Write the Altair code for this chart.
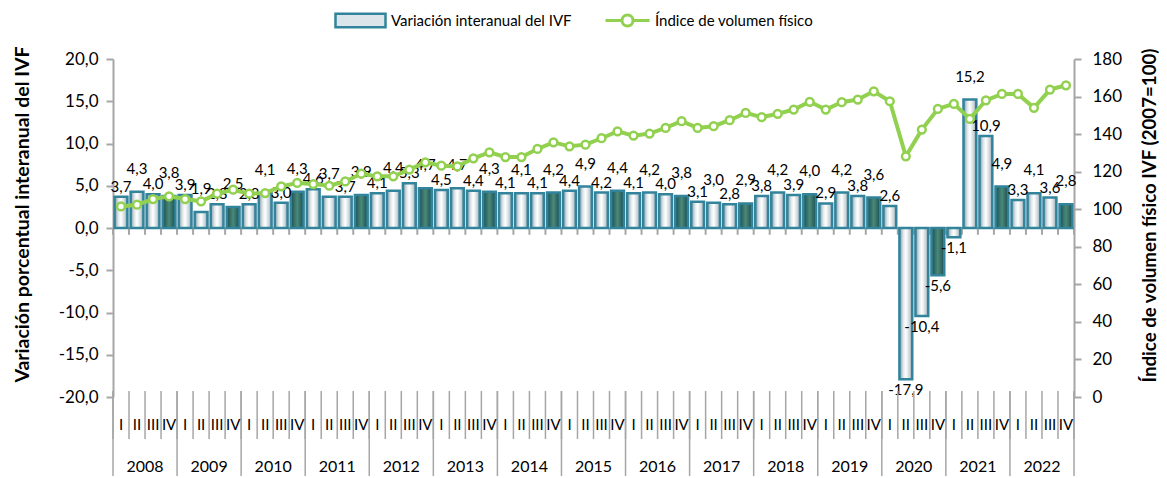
import altair as alt
import pandas as pd

years = list(range(2008, 2023))
quarters = ["I", "II", "III", "IV"]
variacion = [3.7, 4.3, 4.0, 3.8, 3.9, 1.9, 2.8, 2.5, 2.8, 4.1, 3.0, 4.3,
             4.6, 3.7, 3.7, 3.9, 4.1, 4.4, 5.3, 4.7, 4.5, 4.7, 4.4, 4.3,
             4.1, 4.1, 4.1, 4.2, 4.4, 4.9, 4.2, 4.4, 4.1, 4.2, 4.0, 3.8,
             3.1, 3.0, 2.8, 2.9, 3.8, 4.2, 3.9, 4.0, 2.9, 4.2, 3.8, 3.6,
             2.6, -17.9, -10.4, -5.6, -1.1, 15.2, 10.9, 4.9, 3.3, 4.1, 3.6, 2.8]
indice = [101.5, 102.4, 105.4, 106.9, 105.4, 104.2, 108.3, 110.4, 108.3, 108.6,
          112.2, 114.0, 113.4, 112.5, 114.8, 118.9, 117.5, 117.5, 121.1, 125.0,
          123.2, 122.8, 127.1, 130.3, 127.8, 127.8, 132.1, 135.6, 133.5, 134.4,
          137.8, 141.5, 139.2, 140.3, 143.3, 146.9, 143.3, 144.2, 147.4, 151.3,
          149.0, 150.8, 153.1, 157.2, 153.1, 157.0, 158.4, 162.8, 157.5, 128.2,
          142.4, 153.4, 156.1, 148.1, 158.0, 161.4, 161.4, 154.0, 163.7, 166.0]
bar_name = "Variación interanual del IVF"
line_name = "Índice de volumen físico"
left_title = "Variación porcentual interanual del IVF"
right_title = "Índice de volumen físico IVF (2007=100)"

FONT = "Lato"
n = len(variacion)
df = pd.DataFrame({
    "i": list(range(n)),
    "q": [quarters[k % 4] for k in range(n)],
    "v": variacion,
    "ivf": indice,
})
df["x0"] = df["i"] + 0.1
df["x1"] = df["i"] + 0.9
df["xc"] = df["i"] + 0.5
df["lab"] = [f"{v:.1f}".replace(".", ",") for v in variacion]
df["q4"] = (df["i"] % 4 == 3)
df["odd"] = df["i"] % 2
df["zero"] = 0.0
df["serie"] = bar_name
df["serie2"] = line_name

bounds = pd.DataFrame({"b": list(range(n + 1))})
bounds["yedge"] = bounds["b"] % 4 == 0
bounds["t0"] = 0.0
bounds["t1"] = -0.8

yrs = pd.DataFrame({"year": [str(y) for y in years],
                    "xc": [4 * j + 2 for j in range(len(years))]})
zl = pd.DataFrame({"a": [0], "b": [n], "z": [0.0]})

W, H = 961, 338
xs = alt.Scale(domain=[0, n], nice=False, zero=False)
ys = alt.Scale(domain=[-20, 20], nice=False)
ys2 = alt.Scale(domain=[0, 180], nice=False)
GRAY = "#a6a6a6"
STROKE = "#31849b"

light = alt.LinearGradient(gradient="linear", x1=0, x2=1, y1=0, y2=0, stops=[
    alt.GradientStop(color="#7d96a2", offset=0),
    alt.GradientStop(color="#dfe7ea", offset=0.3),
    alt.GradientStop(color="#ffffff", offset=0.5),
    alt.GradientStop(color="#c9d4d9", offset=0.8),
    alt.GradientStop(color="#7d96a2", offset=1)])
dark = alt.LinearGradient(gradient="linear", x1=0, x2=1, y1=0, y2=0, stops=[
    alt.GradientStop(color="#1b4d52", offset=0),
    alt.GradientStop(color="#4a8a79", offset=0.5),
    alt.GradientStop(color="#1b4d52", offset=1)])

left_axis = alt.Axis(
    orient="left", values=list(range(-20, 21, 5)),
    labelExpr="replace(replace(format(datum.value, '.1f'), '.', ','), '\u2212', '-')",
    title=left_title, titleFont=FONT, titleFontSize=19.5, titleFontWeight="bold",
    titleColor="black", titleX=-81, titleY=155, labelFont=FONT, labelFontSize=17,
    labelColor="black", labelPadding=8, tickSize=7, tickColor=GRAY, tickWidth=2,
    domainColor=GRAY, domainWidth=2, grid=False)
right_axis = alt.Axis(
    orient="right", values=list(range(0, 181, 20)), format="d",
    title=right_title, titleFont=FONT, titleFontSize=18.7, titleFontWeight="bold",
    titleColor="black", titleAngle=270, titleX=85, titleY=156, labelFont=FONT,
    labelFontSize=17, labelColor="black", labelPadding=11, tickSize=7,
    tickColor=GRAY, tickWidth=2, domainColor=GRAY, domainWidth=2, grid=False)

base = alt.Chart(df)
xbar = alt.X("x0:Q", scale=xs, axis=None)

zero_line = alt.Chart(zl).mark_rule(color=GRAY, strokeWidth=2).encode(
    x=alt.X("a:Q", scale=xs, axis=None), x2="b:Q",
    y=alt.Y("z:Q", scale=ys, axis=left_axis))
zero_ticks = alt.Chart(bounds).mark_rule(color=GRAY, strokeWidth=2).encode(
    x=alt.X("b:Q", scale=xs, axis=None),
    y=alt.Y("t0:Q", scale=ys, axis=None), y2="t1:Q")

bars_l = base.mark_bar(fill=light, stroke=STROKE, strokeWidth=2.5).encode(
    x=xbar, x2="x1:Q", y=alt.Y("v:Q", scale=ys, axis=None), y2="zero:Q"
).transform_filter("!datum.q4")
bars_d = base.mark_bar(fill=dark, stroke=STROKE, strokeWidth=2.5).encode(
    x=xbar, x2="x1:Q", y=alt.Y("v:Q", scale=ys, axis=None), y2="zero:Q"
).transform_filter("datum.q4")

bar_leg = base.mark_bar(stroke=STROKE, strokeWidth=2.5).encode(
    x=xbar, x2="x1:Q", y=alt.Y("v:Q", scale=ys, axis=None), y2="zero:Q",
    fill=alt.Fill("serie:N", scale=alt.Scale(domain=[bar_name], range=["#dce6ea"]),
                  legend=alt.Legend(title=None, orient="none", legendX=221, legendY=-65,
                                    symbolType="M-1,-0.27H1V0.27H-1Z", symbolSize=2500,
                                    symbolStrokeColor=STROKE, symbolStrokeWidth=2.5,
                                    labelFont=FONT, labelFontSize=15, labelColor="black",
                                    labelOffset=4, labelLimit=400))
).transform_filter("false")

txt = dict(font=FONT, fontSize=15, color="black")
lab_lo = base.mark_text(baseline="bottom", dy=-2, **txt).encode(
    x=alt.X("xc:Q", scale=xs, axis=None), y=alt.Y("v:Q", scale=ys, axis=None), text="lab:N"
).transform_filter("datum.v >= 0 && datum.odd == 0")
lab_hi = base.mark_text(baseline="bottom", dy=-15, **txt).encode(
    x=alt.X("xc:Q", scale=xs, axis=None), y=alt.Y("v:Q", scale=ys, axis=None), text="lab:N"
).transform_filter("datum.v >= 0 && datum.odd == 1")
lab_neg = base.mark_text(baseline="top", dy=4, **txt).encode(
    x=alt.X("xc:Q", scale=xs, axis=None), y=alt.Y("v:Q", scale=ys, axis=None), text="lab:N"
).transform_filter("datum.v < 0")

sep_q = alt.Chart(bounds).mark_rule(color=GRAY, strokeWidth=1.5).encode(
    x=alt.X("b:Q", scale=xs, axis=None), y=alt.value(332), y2=alt.value(380))
sep_y = alt.Chart(bounds).mark_rule(color=GRAY, strokeWidth=1.5).encode(
    x=alt.X("b:Q", scale=xs, axis=None), y=alt.value(332), y2=alt.value(422)
).transform_filter("datum.yedge")
q_lab = base.mark_text(baseline="middle", **txt).encode(
    x=alt.X("xc:Q", scale=xs, axis=None), y=alt.value(366), text="q:N")
y_lab = alt.Chart(yrs).mark_text(baseline="middle", font=FONT, fontSize=16,
                                 color="black").encode(
    x=alt.X("xc:Q", scale=xs, axis=None), y=alt.value(408), text="year:N")

line = base.mark_line(strokeWidth=4).encode(
    x=alt.X("xc:Q", scale=xs, axis=None),
    y=alt.Y("ivf:Q", scale=ys2, axis=right_axis),
    stroke=alt.Stroke("serie2:N", scale=alt.Scale(domain=[line_name], range=["#92d050"]),
                      legend=alt.Legend(title=None, orient="none", legendX=491, legendY=-62,
                                        symbolType="M-1,0H-0.25M0.25,0H1M-0.25,0A0.25,0.25 0 1,1 0.25,0A0.25,0.25 0 1,1 -0.25,0",
                                        symbolSize=1936, symbolStrokeWidth=3,
                                        symbolFillColor="white",
                                        labelFont=FONT, labelFontSize=15, labelColor="black",
                                        labelOffset=4, labelLimit=400)))
pts = base.mark_point(filled=True, fill="white", stroke="#92d050", strokeWidth=2.5,
                      size=60, opacity=1).encode(
    x=alt.X("xc:Q", scale=xs, axis=None),
    y=alt.Y("ivf:Q", scale=ys2, axis=None))

chart = alt.layer(zero_line, zero_ticks, bars_l, bars_d, bar_leg, lab_lo, lab_hi,
                  lab_neg, sep_q, sep_y, q_lab, y_lab, line, pts
).resolve_scale(y="independent").properties(
    width=W, height=H,
    autosize=alt.AutoSizeParams(type="none"),
    padding={"left": 105, "top": 51, "right": 85, "bottom": 79},
).configure_view(stroke=None)

chart.save("out.html", embed_options={"renderer": "svg", "actions": False})
